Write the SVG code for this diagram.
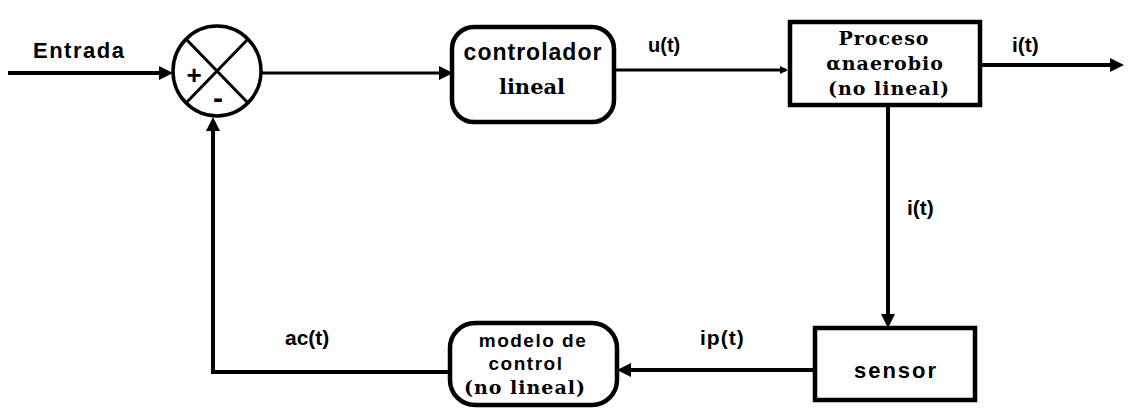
<svg xmlns="http://www.w3.org/2000/svg" width="1130" height="410" viewBox="0 0 1130 410">
  <style>
    .box { fill: #fff; stroke: #000; stroke-width: 4.5; }
    .wire { fill: none; stroke: #000; stroke-width: 4; }
    .thin { fill: none; stroke: #000; stroke-width: 3; }
    .lbl { font-family: "Liberation Sans", Arial, sans-serif; font-weight: bold; fill: #000; }
    .ser { font-family: "DejaVu Serif", "Liberation Serif", serif; font-weight: bold; fill: #000; }
  </style>
  <defs>
    <marker id="ah" viewBox="0 0 14 14" refX="10" refY="7" markerWidth="14" markerHeight="14" markerUnits="userSpaceOnUse" orient="auto">
      <path d="M0,0 L14,7 L0,14 Z" fill="#000"/>
    </marker>
    <marker id="ahs" viewBox="0 0 8 8" refX="6" refY="4" markerWidth="8" markerHeight="8" markerUnits="userSpaceOnUse" orient="auto">
      <path d="M0,0 L8,4 L0,8 Z" fill="#000"/>
    </marker>
  </defs>
  <rect width="1130" height="410" fill="#fff"/>

  <g id="connectors">
    <path class="wire" d="M8,73 H169" marker-end="url(#ah)"/>
    <path class="thin" d="M261,73 H449" marker-end="url(#ah)"/>
    <path class="thin" d="M613,70 H786" marker-end="url(#ahs)"/>
    <path class="wire" d="M980,65 H1120" marker-end="url(#ah)"/>
    <path class="wire" d="M888,105 V324" marker-end="url(#ah)"/>
    <path class="wire" d="M815,370 H621" marker-end="url(#ah)"/>
    <path class="wire" d="M450,372 H213 V121" marker-end="url(#ah)"/>
  </g>

  <g id="labels">
    <text class="lbl" x="33" y="58" font-size="22" letter-spacing="1.5">Entrada</text>
    <text class="lbl" x="648" y="52" font-size="20">u(t)</text>
    <text class="lbl" x="1012" y="52" font-size="21">i(t)</text>
    <text class="lbl" x="907" y="215" font-size="21">i(t)</text>
    <text class="lbl" x="700" y="345" font-size="21" letter-spacing="1">ip(t)</text>
    <text class="lbl" x="285" y="345" font-size="21">ac(t)</text>
  </g>

  <g id="sumador">
    <ellipse cx="217" cy="71" rx="44" ry="45" fill="#fff" stroke="#000" stroke-width="3.5"/>
    <path class="thin" d="M186,39 L248,103 M248,39 L186,103"/>
    <text class="lbl" x="194" y="84" font-size="26" text-anchor="middle">+</text>
    <text class="lbl" x="218" y="108" font-size="30" text-anchor="middle">-</text>
  </g>

  <g id="controlador">
    <rect class="box" x="452" y="27" width="162" height="95" rx="22"/>
    <text class="lbl" x="533" y="60" font-size="23" letter-spacing="1" text-anchor="middle">controlador</text>
    <text class="ser" x="532" y="94" font-size="21" text-anchor="middle">lineal</text>
  </g>

  <g id="proceso">
    <rect class="box" x="790" y="22" width="190" height="83"/>
    <text class="ser" x="884" y="45" font-size="19" letter-spacing="1" text-anchor="middle">Proceso</text>
    <text class="ser" x="885" y="70" font-size="19" letter-spacing="1" text-anchor="middle">αnaerobio</text>
    <text class="ser" x="889" y="95" font-size="19" letter-spacing="1" text-anchor="middle">(no lineal)</text>
  </g>

  <g id="sensor">
    <rect class="box" x="815" y="328" width="160" height="72"/>
    <text class="lbl" x="896" y="378" font-size="22" letter-spacing="2" text-anchor="middle">sensor</text>
  </g>

  <g id="modelo">
    <rect class="box" x="450" y="323" width="167" height="82" rx="25"/>
    <text class="lbl" x="533" y="347" font-size="19" letter-spacing="1.5" text-anchor="middle">modelo de</text>
    <text class="lbl" x="526" y="370" font-size="19" letter-spacing="1.5" text-anchor="middle">control</text>
    <text class="ser" x="525" y="394" font-size="19" letter-spacing="1" text-anchor="middle">(no lineal)</text>
  </g>
</svg>
